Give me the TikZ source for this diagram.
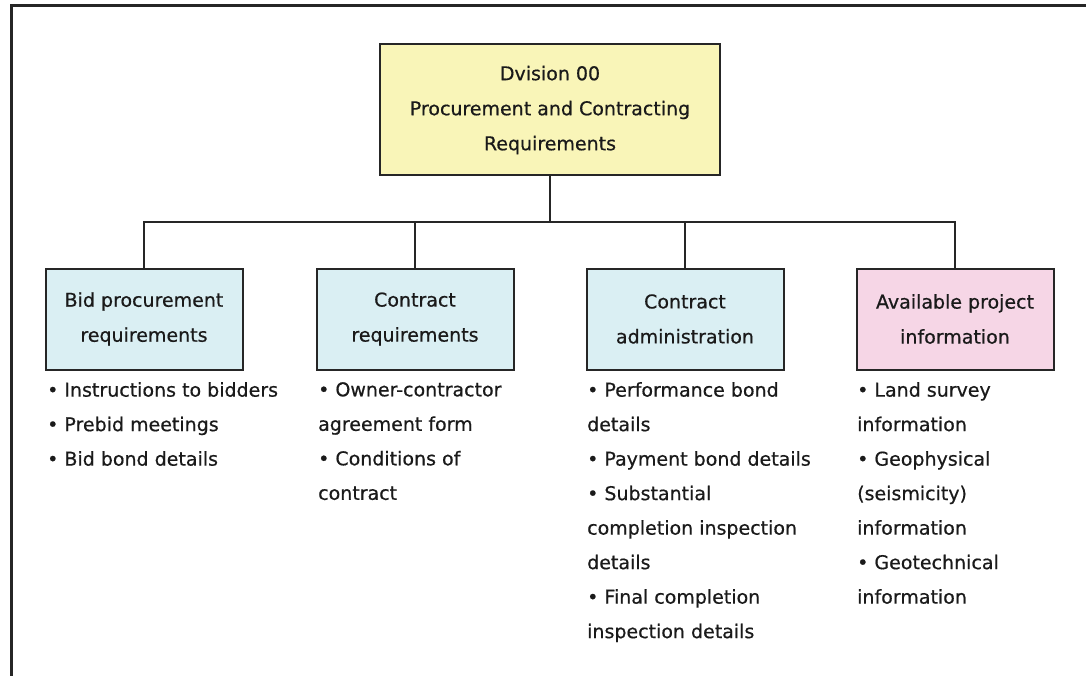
\documentclass[tikz,border=0pt]{standalone}
\usepackage{fontspec}
\setmainfont{DejaVu Sans}[BoldFont=DejaVu Sans, BoldFeatures={FakeBold=0.6}]
\definecolor{boxline}{HTML}{262626}
\definecolor{txt}{HTML}{1A1A1A}
\definecolor{headfill}{HTML}{F9F5B8}
\definecolor{bluefill}{HTML}{DAEFF3}
\definecolor{pinkfill}{HTML}{F6D6E6}
\begin{document}
\begin{tikzpicture}[x=1pt,y=-1pt,
  box/.style={draw=boxline, line width=2pt, minimum width=197pt, minimum height=101pt,
    align=center, inner sep=0pt, text=txt, font=\fontsize{19}{35}\selectfont\bfseries},
  list/.style={anchor=north west, align=left, inner sep=0pt, text=txt,
    font=\fontsize{19}{34.5}\selectfont\bfseries},
  link/.style={draw=boxline, line width=1.6pt},
  frameline/.style={draw=boxline, line width=3pt}]
  \useasboundingbox (0,0) rectangle (1086,676);
  % outer frame: top and left edges only
  \draw[frameline] (1086,6) -- (11,6) -- (11,676);

  % heading box
  \node[box, fill=headfill, minimum width=340pt, minimum height=131pt] (top) at (550,110)
    {Dvision 00\\Procurement and Contracting\\Requirements};

  % second level boxes
  \node[box, fill=bluefill] (b1) at (144,319) {Bid procurement\\requirements};
  \node[box, fill=bluefill] (b2) at (415,319) {Contract\\requirements};
  \node[box, fill=bluefill] (b3) at (685,319) {Contract\\administration};
  \node[box, fill=pinkfill] (b4) at (955,319) {Available project\\information};

  % tree connectors
  \coordinate (bus) at (0,222);
  \draw[link] (top.south) -- (top.south |- bus);
  \draw[link] (b1.north) -- (b1.north |- bus) -- (b4.north |- bus) -- (b4.north);
  \draw[link] (b2.north) -- (b2.north |- bus);
  \draw[link] (b3.north) -- (b3.north |- bus);

  % item lists
  \node[list] (l1) at (47,382)
    {• Instructions to bidders\\• Prebid meetings\\• Bid bond details};
  \node[list] (l2) at (318,382)
    {• Owner-contractor\\agreement form\\• Conditions of\\contract};
  \node[list] (l3) at (587,382)
    {• Performance bond\\details\\• Payment bond details\\• Substantial\\completion inspection\\details\\• Final completion\\inspection details};
  \node[list] (l4) at (857,382)
    {• Land survey\\information\\• Geophysical\\(seismicity)\\information\\• Geotechnical\\information};
\end{tikzpicture}
\end{document}
